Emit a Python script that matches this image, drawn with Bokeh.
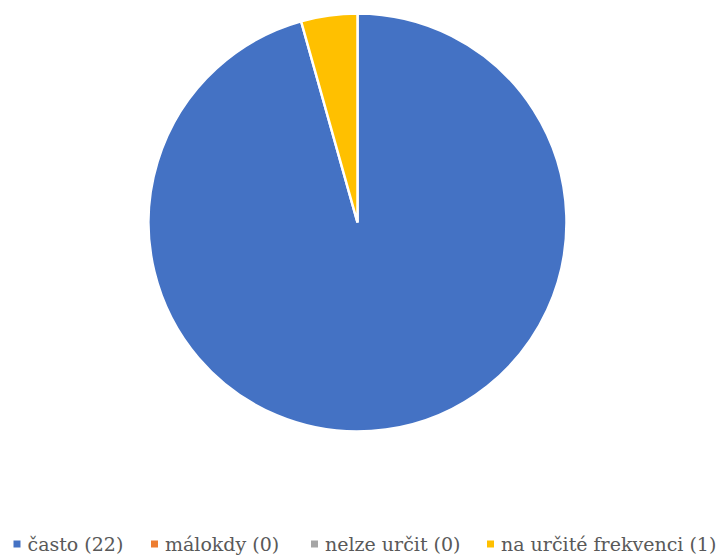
import math
from bokeh.plotting import figure
from bokeh.models import Range1d, ColumnDataSource
from bokeh.core.properties import value
from bokeh.embed import file_html
from bokeh.resources import INLINE

categories = ["často (22)", "málokdy (0)", "nelze určit (0)", "na určité frekvenci (1)"]
values = [22, 0, 0, 1]
colors = ["#4472C4", "#ED7D31", "#A5A5A5", "#FFC000"]

W, H = 720, 556
p = figure(width=W, height=H, output_backend="svg", toolbar_location=None,
           x_range=Range1d(0, W), y_range=Range1d(0, H), min_border=0)
p.axis.visible = False
p.grid.visible = False
p.outline_line_color = None
p.background_fill_color = "white"
p.border_fill_color = "white"

total = sum(values)
starts, ends = [], []
acc = 0.0
for v in values:
    a0 = math.pi / 2 - 2 * math.pi * acc / total
    acc += v
    a1 = math.pi / 2 - 2 * math.pi * acc / total
    starts.append(a0)
    ends.append(a1)

cx, cy, r = 357, H - 222, 209
nz = [i for i, v in enumerate(values) if v > 0]
wsrc = ColumnDataSource(dict(start=[starts[i] for i in nz], end=[ends[i] for i in nz],
                             color=[colors[i] for i in nz],
                             x=[cx] * len(nz), y=[cy] * len(nz)))
p.wedge(x="x", y="y", radius=r, start_angle="start", end_angle="end",
        direction="clock", fill_color="color", line_color="white", line_width=2.5,
        source=wsrc)

# legend (layout positions in pixels)
leg_x = [16.5, 154, 314, 490]
leg_y = H - 543.5
lsrc = ColumnDataSource(dict(x=leg_x, y=[leg_y] * 4, tx=[x + 10.5 for x in leg_x],
                             ty=[leg_y + 0.5] * 4, color=colors, label=categories))
p.scatter(x="x", y="y", marker="square", size=7, fill_color="color",
          line_color=None, source=lsrc)
p.text(x="tx", y="ty", text="label", text_font=value("DejaVu Serif"),
       text_font_size="19px", text_color="#595959", text_baseline="middle",
       text_align="left", source=lsrc)

open("out.html", "w").write(file_html(p, INLINE))
